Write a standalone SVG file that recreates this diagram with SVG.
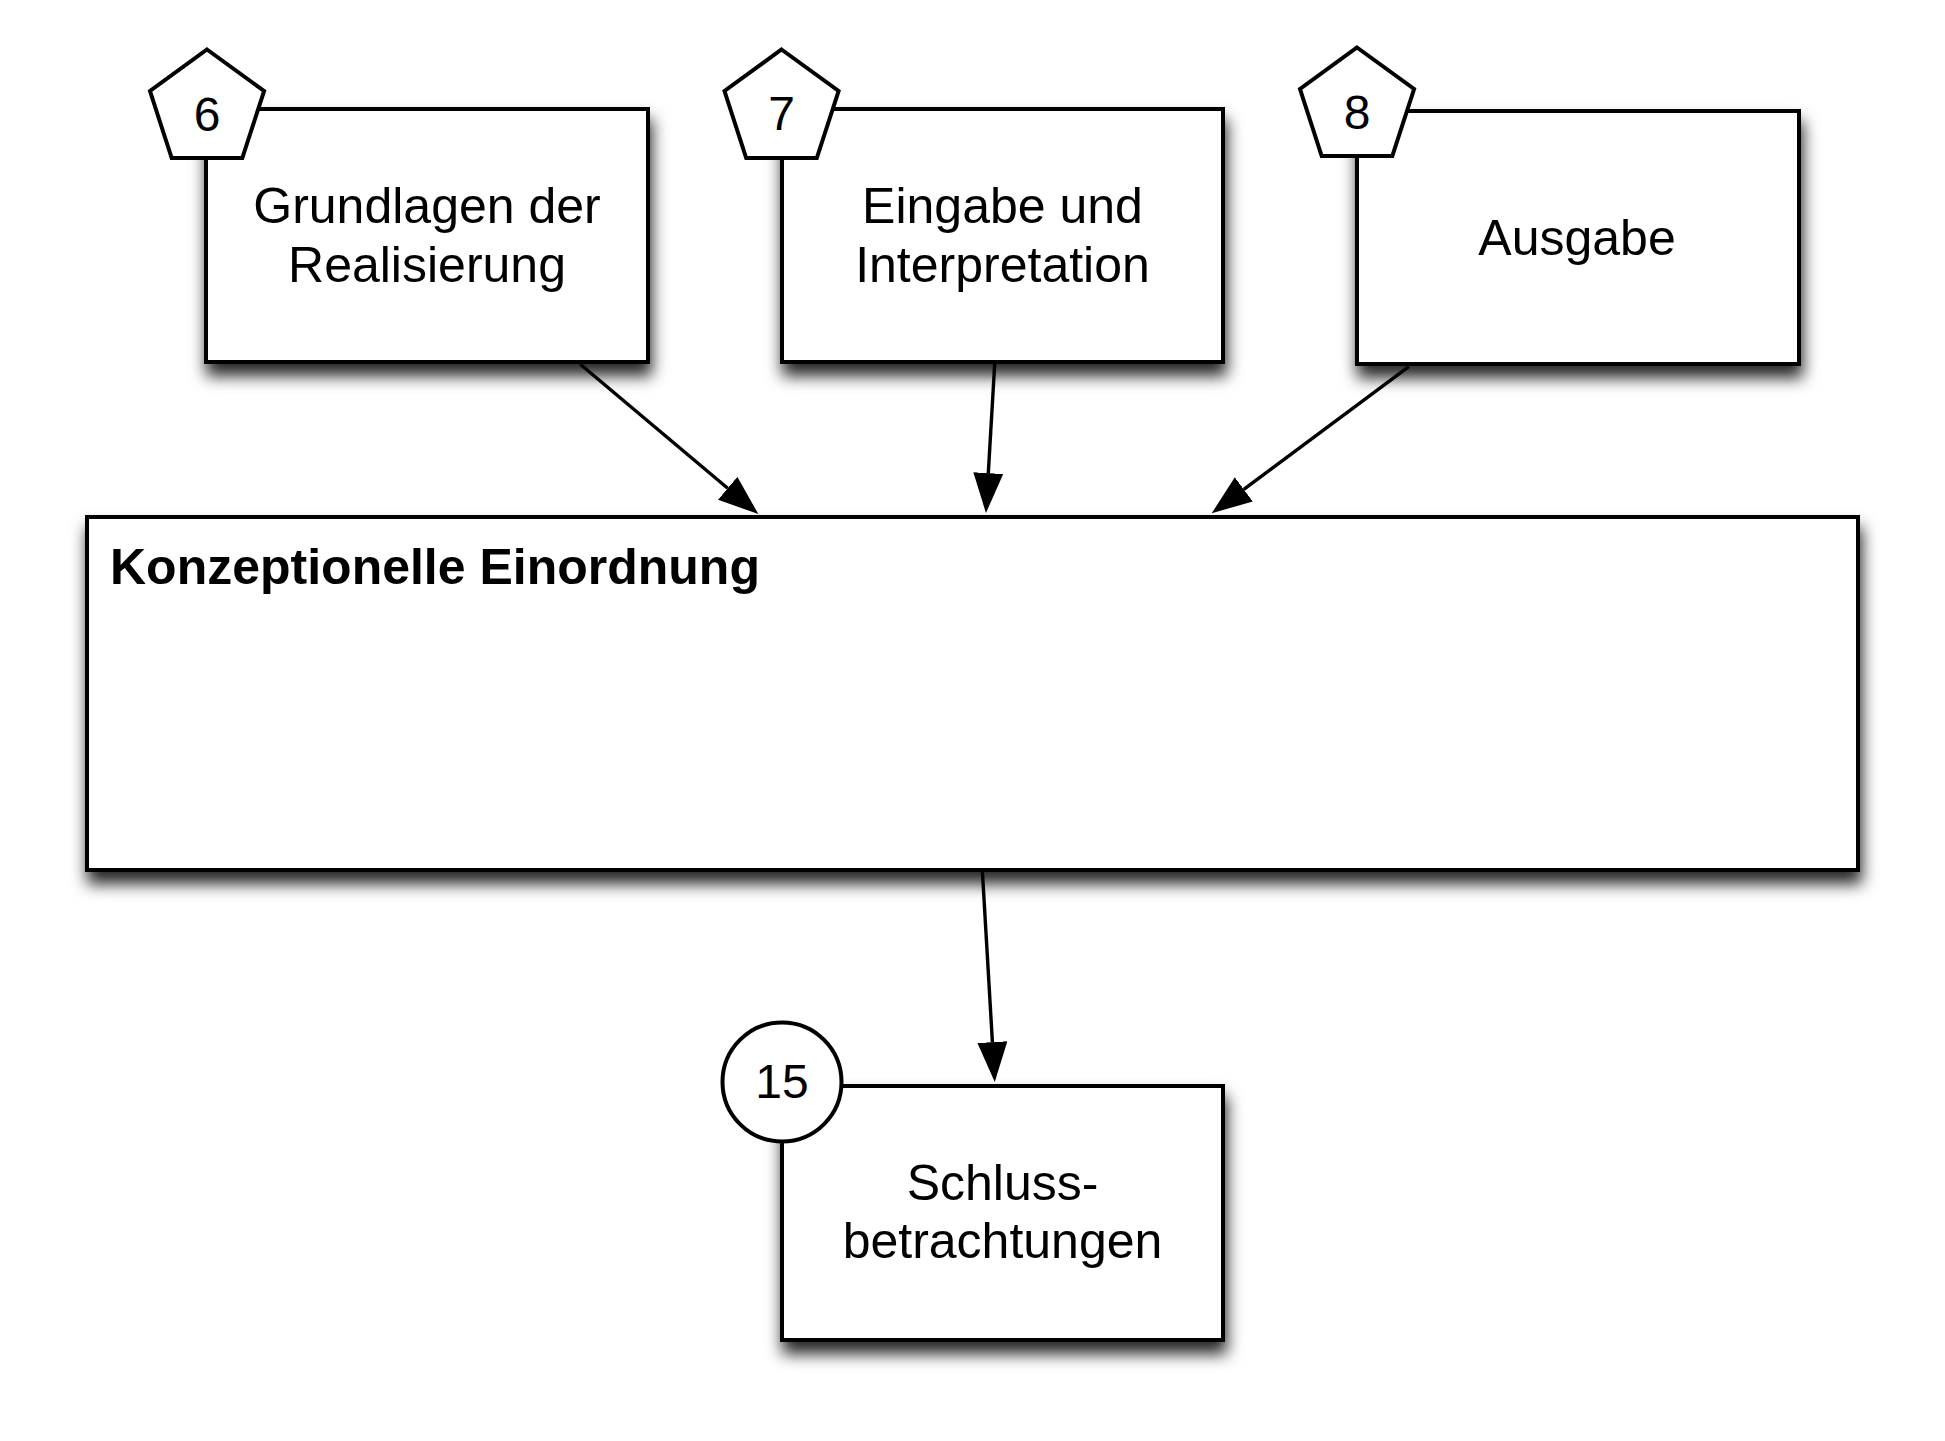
<svg xmlns="http://www.w3.org/2000/svg" width="1945" height="1441" viewBox="0 0 1945 1441">
  <defs>
    <filter id="shadow" x="-10%" y="-10%" width="125%" height="145%">
      <feDropShadow dx="2" dy="12" stdDeviation="8" flood-color="#000" flood-opacity="0.85"/>
    </filter>
    <marker id="arrow" markerUnits="userSpaceOnUse" markerWidth="42" markerHeight="32" refX="0" refY="15" orient="auto" viewBox="0 0 42 32">
      <path d="M0,0 L40,15 L0,30 Z" fill="#000"/>
    </marker>
  </defs>
  <style>
    .box { fill: #fff; stroke: #000; stroke-width: 4; }
    .badge { fill: #fff; stroke: #000; stroke-width: 4; stroke-linejoin: miter; }
    .lbl { font-family: "Liberation Sans", Arial, sans-serif; font-size: 50px; fill: #000; text-anchor: middle; }
    .num { font-family: "Liberation Sans", Arial, sans-serif; font-size: 48px; fill: #000; text-anchor: middle; }
    .title { font-family: "Liberation Sans", Arial, sans-serif; font-size: 50px; font-weight: bold; fill: #000; }
    .conn { fill: none; stroke: #000; stroke-width: 3.4; marker-end: url(#arrow); }
  </style>
  <rect width="1945" height="1441" fill="#fff"/>

  <g id="connectors">
    <path class="conn" d="M580.3,364.3 L727.7,488.3"/>
    <path class="conn" d="M994.7,364 L988.3,473.1"/>
    <path class="conn" d="M1408.8,366.7 L1243.8,489.4"/>
    <path class="conn" d="M982.4,871.7 L992.4,1042.1"/>
  </g>

  <g id="node-grundlagen">
    <rect class="box" x="206" y="109" width="442" height="253" filter="url(#shadow)"/>
    <text class="lbl" x="427" y="223">Grundlagen der</text>
    <text class="lbl" x="427" y="282">Realisierung</text>
    <polygon class="badge" points="207,49.5 264.1,91 242.3,158 171.7,158 150,91"/>
    <text class="num" x="207" y="131">6</text>
  </g>

  <g id="node-eingabe">
    <rect class="box" x="782" y="109" width="441" height="253" filter="url(#shadow)"/>
    <text class="lbl" x="1002.5" y="223">Eingabe und</text>
    <text class="lbl" x="1002.5" y="282">Interpretation</text>
    <polygon class="badge" points="781.5,49.5 838.6,91 816.8,158 746.2,158 724.5,91"/>
    <text class="num" x="781.5" y="130">7</text>
  </g>

  <g id="node-ausgabe">
    <rect class="box" x="1357" y="111" width="442" height="253" filter="url(#shadow)"/>
    <text class="lbl" x="1577" y="255">Ausgabe</text>
    <polygon class="badge" points="1357,47.5 1414.1,89 1392.3,156 1321.7,156 1300,89"/>
    <text class="num" x="1357" y="129">8</text>
  </g>

  <g id="node-konzeptionelle">
    <rect class="box" x="87" y="517" width="1771" height="353" filter="url(#shadow)"/>
    <text class="title" x="110" y="584">Konzeptionelle Einordnung</text>
  </g>

  <g id="node-schluss">
    <rect class="box" x="782" y="1086" width="441" height="254" filter="url(#shadow)"/>
    <text class="lbl" x="1002.5" y="1200">Schluss-</text>
    <text class="lbl" x="1002.5" y="1258">betrachtungen</text>
    <circle class="badge" cx="782" cy="1082" r="59.5"/>
    <text class="num" x="782" y="1098">15</text>
  </g>
</svg>
